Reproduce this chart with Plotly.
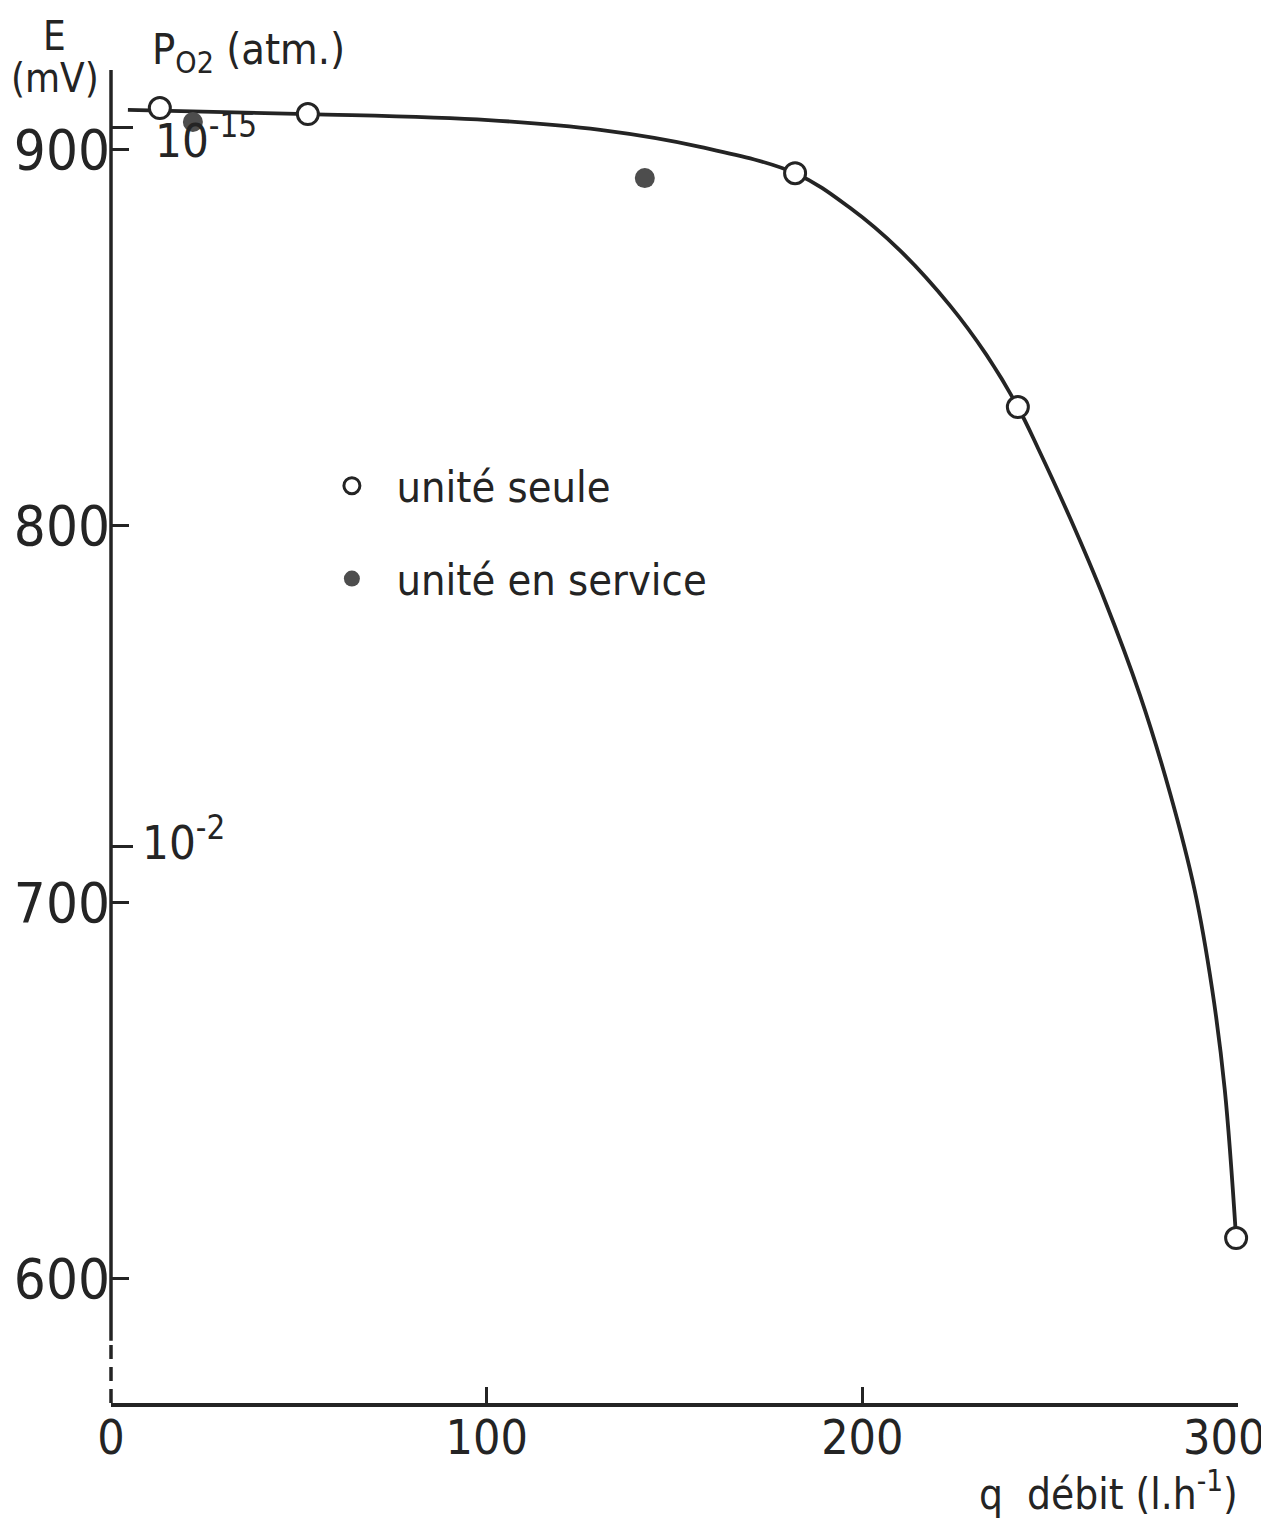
import plotly.graph_objects as go

# ---- data ----
# open circles: "unité seule"
seule_q = [13.0, 52.4, 182.1, 241.4, 299.5]
seule_E = [910.9, 909.3, 893.6, 831.5, 610.8]
# filled circles: "unité en service"
service_q = [21.8, 142.1]
service_E = [907.2, 892.3]
# hand-drawn fitted curve, read along its path
curve_q = [4.5, 52.4, 100.4, 130.2, 156.8, 182.1, 196.7, 210.0, 223.3, 233.0,
           241.4, 246.8, 255.3, 264.6, 273.9, 281.9, 288.5, 293.1, 296.5, 299.5]
curve_E = [910.4, 909.3, 907.7, 905.1, 900.6, 893.6, 884.4, 873.1, 858.5, 845.4,
           831.5, 820.5, 802.0, 780.0, 755.0, 729.0, 703.0, 677.0, 650.0, 610.8]
# axes
x_ticks = [0, 100, 200, 300]
x_tick_text = ["0", "100", "200", "300\u00a0\u00a0"]
y_ticks = [600, 700, 800, 900]
po2_tick_E = [905.8, 714.8]          # E values where the P_O2 ticks sit
po2_labels = ["10<sup>-15</sup>", "10<sup>-2</sup>"]

X_RANGE = [0, 300]
Y_RANGE = [567, 921]
Y_SOLID_BOTTOM = 583.5

FONT = "DejaVu Sans Condensed, DejaVu Sans, sans-serif"
INK = "#242424"
NB = "\u00a0"

fig = go.Figure()

fig.add_trace(go.Scatter(x=curve_q, y=curve_E, mode="lines",
                         line=dict(color=INK, width=3.8, shape="spline", smoothing=1.0),
                         showlegend=False, hoverinfo="skip", cliponaxis=False))
fig.add_trace(go.Scatter(x=seule_q, y=seule_E, mode="markers", name=NB * 2 + "unité" + NB + "seule",
                         marker=dict(symbol="circle", size=21, color="white",
                                     line=dict(color=INK, width=3)),
                         legendgroup="a", cliponaxis=False))
fig.add_trace(go.Scatter(x=service_q, y=service_E, mode="markers",
                         name=NB * 2 + "unité en service",
                         marker=dict(symbol="circle", size=20, color="#4d4d4d",
                                     line=dict(color="#4d4d4d", width=0)),
                         legendgroup="b", cliponaxis=False))
# empty trace so the P_O2 axis (yaxis2) is drawn
fig.add_trace(go.Scatter(x=[None], y=[None], yaxis="y2", showlegend=False, hoverinfo="skip"))

# vertical axis line: solid, then dashed near the origin
fig.add_shape(type="line", xref="paper", yref="y", x0=0, x1=0, y0=Y_SOLID_BOTTOM, y1=Y_RANGE[1],
              line=dict(color=INK, width=3.5))
fig.add_shape(type="line", xref="paper", yref="y", x0=0, x1=0, y0=Y_RANGE[0], y1=Y_SOLID_BOTTOM,
              line=dict(color=INK, width=3.5, dash="14px,8px"))

fig.update_layout(
    width=1261, height=1511,
    margin=dict(l=103, r=31, t=62, b=116, autoexpand=False),
    paper_bgcolor="white", plot_bgcolor="white",
    font=dict(family=FONT, color=INK),
    xaxis=dict(range=X_RANGE, tickvals=x_ticks, ticktext=x_tick_text, automargin=False,
               ticks="inside", ticklen=16, tickwidth=3, tickcolor=INK,
               showline=True, linewidth=3.5, linecolor=INK, showgrid=False, zeroline=False,
               ticklabeloverflow="allow", ticklabelstandoff=-10,
               tickfont=dict(size=48, family=FONT, color=INK)),
    yaxis=dict(range=Y_RANGE, tickvals=y_ticks, ticktext=[str(v) for v in y_ticks],
               automargin=False, ticks="inside", ticklen=18, tickwidth=3, tickcolor=INK,
               showline=False, showgrid=False, zeroline=False, ticklabeloverflow="allow",
               tickfont=dict(size=56, family=FONT, color=INK)),
    yaxis2=dict(range=Y_RANGE, overlaying="y", side="left", tickvals=po2_tick_E,
                automargin=False, showticklabels=False, ticks="inside", ticklen=22,
                tickwidth=3, tickcolor=INK, showgrid=False, zeroline=False, showline=False),
    legend=dict(x=0.196, y=0.714, xanchor="left", yanchor="top",
                bgcolor="rgba(0,0,0,0)", borderwidth=0,
                font=dict(size=43, family=FONT, color=INK),
                tracegroupgap=34, itemsizing="trace"),
    showlegend=True,
)

ann = [
    dict(x=-0.0497, y=1.0255, text="E", size=40),
    dict(x=-0.0497, y=0.994, text="(mV)", size=40),
    dict(x=0.0346, y=1.0135, text="P<sub>O2</sub>" + NB + "(atm.)", xanchor="left", size=43),
    dict(x=1.0018, y=-0.0665, text="q" + NB * 2 + "débit" + NB + "(l.h<sup>-1</sup>)",
         xanchor="right", size=42),
]
for a in ann:
    fig.add_annotation(xref="paper", yref="paper", showarrow=False, yanchor="middle",
                       xanchor=a.get("xanchor", "center"), x=a["x"], y=a["y"], text=a["text"],
                       font=dict(family=FONT, color=INK, size=a["size"]))

# P_O2 tick labels, set next to their ticks
fig.add_annotation(xref="paper", yref="y", x=0.0373, y=po2_tick_E[0] - 2.7, text=po2_labels[0],
                   xanchor="left", yanchor="middle", showarrow=False,
                   font=dict(family=FONT, color=INK, size=47))
fig.add_annotation(xref="paper", yref="y", x=0.026, y=po2_tick_E[1] + 2.0, text=po2_labels[1],
                   xanchor="left", yanchor="middle", showarrow=False,
                   font=dict(family=FONT, color=INK, size=47))

fig.write_html("out.html")
